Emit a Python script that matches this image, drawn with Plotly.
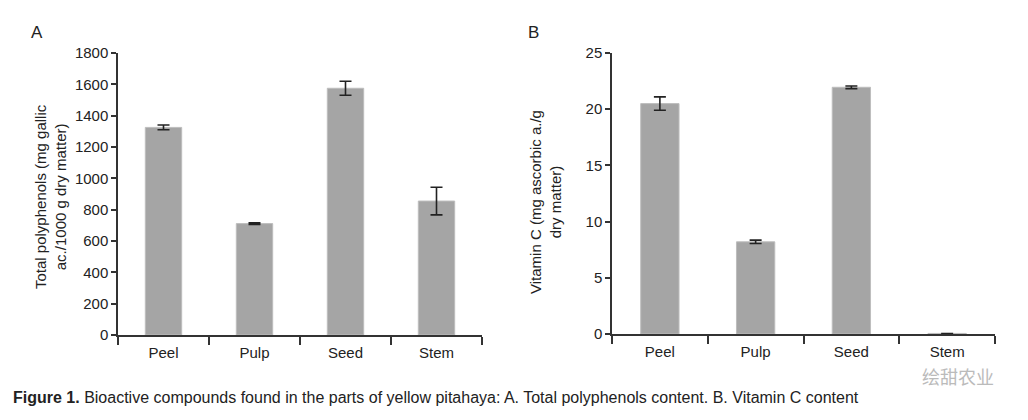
import plotly.graph_objects as go

categories = ["Peel", "Pulp", "Seed", "Stem"]
polyphenols = [1325, 711, 1575, 855]
polyphenols_err = [15, 5, 45, 88]
vitamin_c = [20.5, 8.2, 21.95, 0.05]
vitamin_c_err = [0.6, 0.15, 0.12, 0.0]
yticks_a = [0, 200, 400, 600, 800, 1000, 1200, 1400, 1600, 1800]
yticks_b = [0, 5, 10, 15, 20, 25]

W, H = 1028, 420
FONT = "Liberation Sans Narrow, Arial Narrow, Liberation Sans, Arial"
BAR = "#a5a5a5"
AX = "#333333"
TXT = "#222222"

fig = go.Figure()
fig.add_trace(go.Bar(
    x=categories, y=polyphenols, width=0.4, xaxis="x", yaxis="y",
    marker=dict(color=BAR, line=dict(color="#bdbdbd", width=1)),
    error_y=dict(type="data", array=polyphenols_err, color="#222222", thickness=1.6, width=6),
    showlegend=False, hoverinfo="skip",
))
fig.add_trace(go.Bar(
    x=categories, y=vitamin_c, width=0.4, xaxis="x2", yaxis="y2",
    marker=dict(color=BAR, line=dict(color="#bdbdbd", width=1)),
    error_y=dict(type="data", array=vitamin_c_err, color="#222222", thickness=1.6, width=6),
    showlegend=False, hoverinfo="skip",
))

def px_x(p):
    return p / W

def px_y(p):
    return 1 - p / H

xcommon = dict(type="category", range=[-0.5, 3.5], showline=True, linecolor=AX, linewidth=1.5,
               ticks="outside", tickson="boundaries", ticklen=8, tickcolor=AX, tickwidth=1.5,
               showgrid=False, zeroline=False, automargin=False, ticklabelstandoff=3,
               tickfont=dict(family=FONT, size=15, color=TXT))
ycommon = dict(showline=True, linecolor=AX, linewidth=1.5, ticks="outside", ticklen=5,
               tickcolor=AX, tickwidth=1.5, showgrid=False, zeroline=False, automargin=False,
               tickfont=dict(family=FONT, size=15, color=TXT))

fig.update_layout(
    template="none",
    width=W, height=H,
    margin=dict(l=0, r=0, t=0, b=0, pad=0, autoexpand=False),
    paper_bgcolor="white", plot_bgcolor="white",
    bargap=0.6,
    xaxis=dict(domain=[px_x(118), px_x(482)], anchor="y", **xcommon),
    yaxis=dict(domain=[px_y(335), px_y(53)], anchor="x", range=[0, 1800],
               tickvals=yticks_a, ticktext=[str(v) for v in yticks_a], **ycommon),
    xaxis2=dict(domain=[px_x(612), px_x(995)], anchor="y2", **xcommon),
    yaxis2=dict(domain=[px_y(334), px_y(53)], anchor="x2", range=[0, 25],
                tickvals=yticks_b, ticktext=[str(v) for v in yticks_b], **ycommon),
    font=dict(family=FONT, color=TXT),
)

annotations = [
    dict(text="A", x=px_x(37), y=px_y(33), xref="paper", yref="paper", showarrow=False,
         xanchor="center", yanchor="middle",
         font=dict(family="Liberation Sans, Arial", size=17, color=TXT)),
    dict(text="B", x=px_x(533), y=px_y(33), xref="paper", yref="paper", showarrow=False,
         xanchor="center", yanchor="middle",
         font=dict(family="Liberation Sans, Arial", size=17, color=TXT)),
    dict(text="Total polyphenols (mg gallic<br>ac./1000 g dry matter)", textangle=-90,
         x=px_x(50), y=px_y(197), xref="paper", yref="paper", showarrow=False, align="center",
         xanchor="center", yanchor="middle",
         font=dict(family=FONT, size=15, color=TXT)),
    dict(text="Vitamin C (mg ascorbic a./g<br>dry matter)", textangle=-90,
         x=px_x(545), y=px_y(202), xref="paper", yref="paper", showarrow=False, align="center",
         xanchor="center", yanchor="middle",
         font=dict(family=FONT, size=15, color=TXT)),
    dict(text="<b>Figure 1.</b> Bioactive compounds found in the parts of yellow pitahaya: A. Total polyphenols content. B. Vitamin C content",
         x=px_x(11), y=px_y(397), xref="paper", yref="paper", showarrow=False,
         xanchor="left", yanchor="middle",
         font=dict(family=FONT, size=16, color=TXT)),
    dict(text="绘甜农业", x=px_x(996), y=px_y(376), xref="paper", yref="paper", showarrow=False,
         xanchor="right", yanchor="middle",
         font=dict(family="Noto Sans CJK SC", size=18, color="#bbbbbb")),
]
fig.update_layout(annotations=annotations)

fig.write_html("out.html", config={"displayModeBar": False},
               post_script="document.body.style.margin='0';")
